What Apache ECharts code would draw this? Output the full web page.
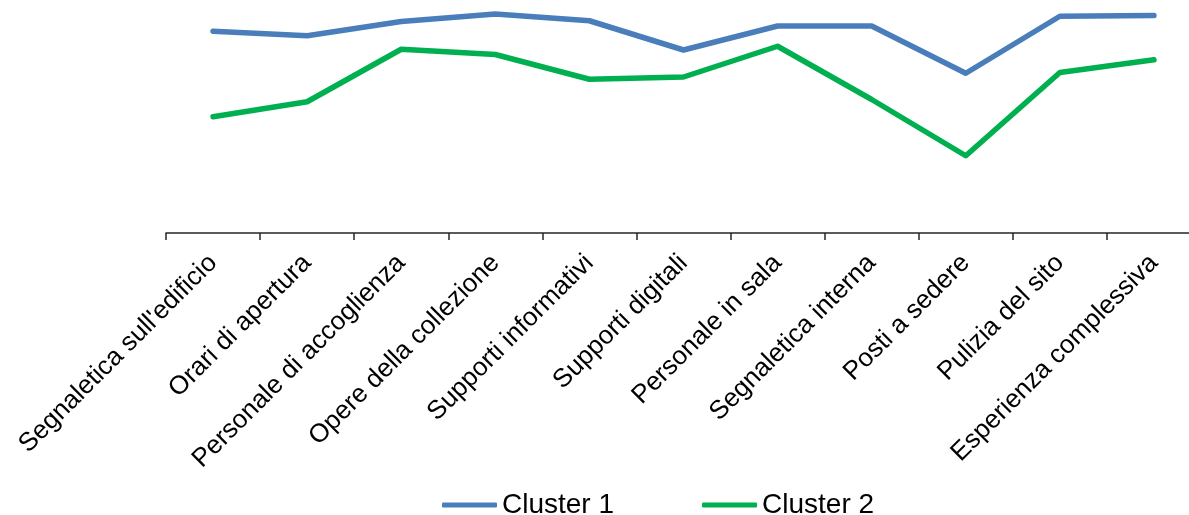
<!DOCTYPE html>
<html>
<head>
<meta charset="utf-8">
<title>Cluster 1 / Cluster 2</title>
<script src="https://cdn.jsdelivr.net/npm/echarts@6/dist/echarts.min.js"></script>
<style>
  html, body { margin: 0; padding: 0; background: #fff; }
  #chart { width: 1189px; height: 515px; }
</style>
</head>
<body>
<div id="chart"></div>
<script>
// Survey items (x axis)
const categories = [
  "Segnaletica sull'edificio",
  "Orari di apertura",
  "Personale di accoglienza",
  "Opere della collezione",
  "Supporti informativi",
  "Supporti digitali",
  "Personale in sala",
  "Segnaletica interna",
  "Posti a sedere",
  "Pulizia del sito",
  "Esperienza complessiva"
];

// Mean scores per cluster
const cluster1 = [4.69, 4.63, 4.82, 4.92, 4.83, 4.44, 4.76, 4.76, 4.13, 4.89, 4.90];
const cluster2 = [3.55, 3.75, 4.45, 4.38, 4.05, 4.08, 4.49, 3.78, 3.03, 4.14, 4.31];

const seriesNames = ["Cluster 1", "Cluster 2"];

const FONT = "'Liberation Sans', Arial, sans-serif";

const chart = echarts.init(document.getElementById('chart'), null, { renderer: 'canvas' });

chart.setOption({
  backgroundColor: '#ffffff',
  animation: false,
  grid: {
    left: 166,
    right: -12,
    top: 8,
    bottom: 282,
    containLabel: false,
    outerBoundsMode: 'none'
  },
  legend: {
    data: seriesNames,
    left: 437,
    top: 486,
    icon: 'roundRect',
    itemWidth: 55,
    itemHeight: 5,
    itemGap: 88,
    textStyle: {
      fontFamily: FONT,
      fontSize: 28,
      color: '#000',
      lineHeight: 28
    }
  },
  xAxis: {
    type: 'category',
    data: categories,
    boundaryGap: true,
    axisLine: { show: true, lineStyle: { color: '#262626', width: 1.5 } },
    axisTick: { show: true, length: 7, lineStyle: { color: '#262626', width: 1.5 } },
    axisLabel: {
      interval: 0,
      rotate: 45,
      margin: 26,
      fontFamily: FONT,
      fontSize: 26,
      color: '#000'
    },
    splitLine: { show: false }
  },
  yAxis: {
    type: 'value',
    min: 2,
    max: 5,
    show: false,
    splitLine: { show: false }
  },
  series: [
    {
      name: seriesNames[0],
      type: 'line',
      data: cluster1,
      showSymbol: false,
      symbol: 'none',
      color: '#4A7EBB',
      lineStyle: { width: 5.5, color: '#4A7EBB', cap: 'round', join: 'round' }
    },
    {
      name: seriesNames[1],
      type: 'line',
      data: cluster2,
      showSymbol: false,
      symbol: 'none',
      color: '#00B050',
      lineStyle: { width: 5.5, color: '#00B050', cap: 'round', join: 'round' }
    }
  ]
});
</script>
</body>
</html>
